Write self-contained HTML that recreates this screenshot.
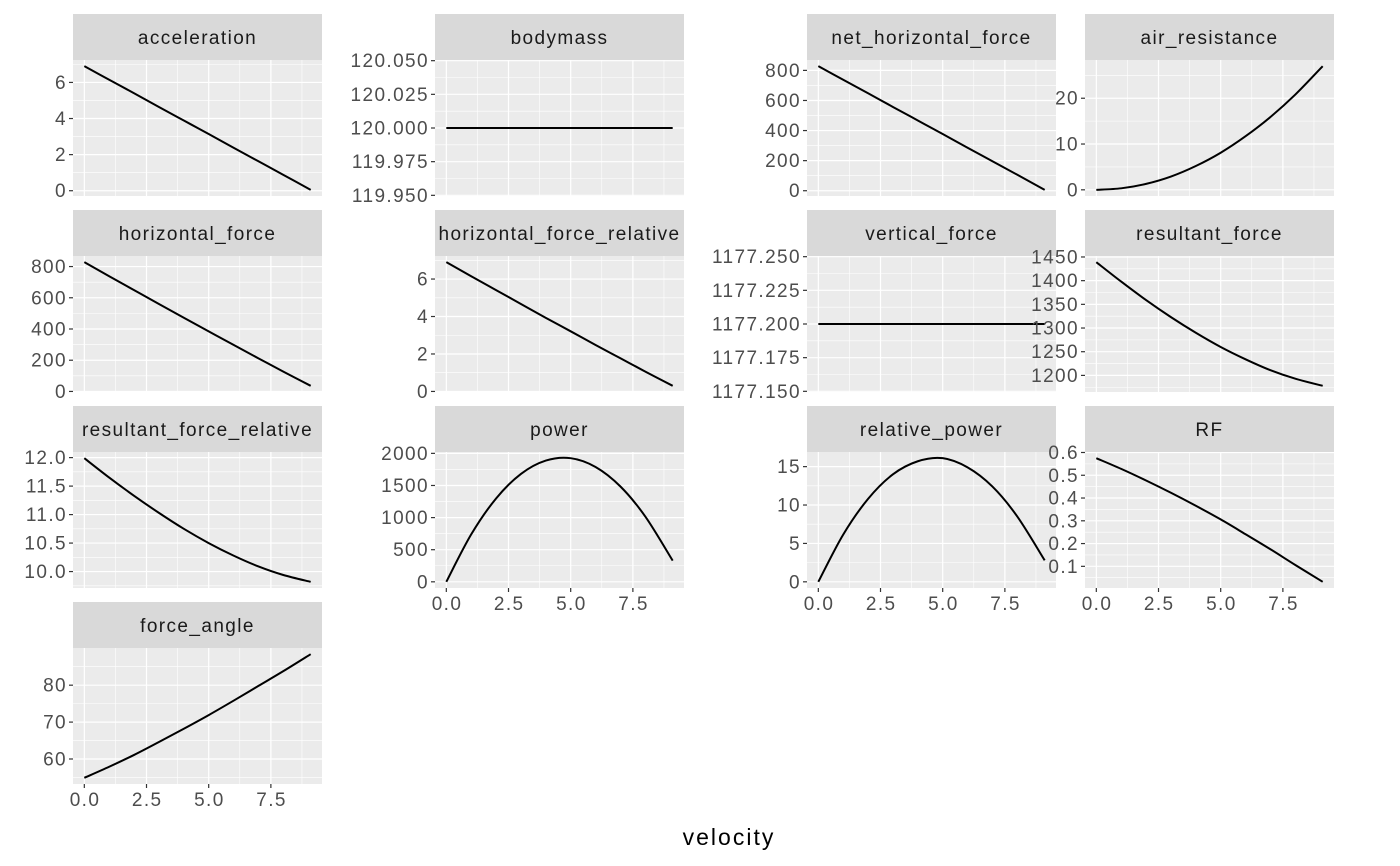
<!DOCTYPE html>
<html><head><meta charset="utf-8"><style>
html,body{margin:0;padding:0;background:#fff}
svg{display:block;font-family:"Liberation Sans",sans-serif}
</style></head><body>
<svg id="chart" width="1400" height="866" viewBox="0 0 1400 866" xmlns="http://www.w3.org/2000/svg">
<text x="729" y="845" font-size="23" letter-spacing="2" text-anchor="middle" fill="#000">velocity</text>
</svg>
<script>
const velocity = [0,1,2,3,4,5,6,7,8,9.1];
const xTicks = [0,2.5,5,7.5];
const xTickLabels = ["0.0","2.5","5.0","7.5"];
const panelNames = ["acceleration","bodymass","net_horizontal_force","air_resistance","horizontal_force","horizontal_force_relative","vertical_force","resultant_force","resultant_force_relative","power","relative_power","RF","force_angle"];
const acceleration = [6.90,6.15,5.40,4.64,3.89,3.14,2.38,1.63,0.88,0.05];
const bodymass = [120,120,120,120,120,120,120,120,120,120];
const netHorizontalForce = [828,738,648,557,467,377,286,196,106,6];
const airResistance = [0,0.33,1.3,2.9,5.2,8.1,11.7,15.9,20.8,27];
const horizontalForce = [828,738,649,560,472,385,298,212,127,36];
const horizontalForceRelative = [6.90,6.15,5.41,4.67,3.93,3.21,2.48,1.77,1.06,0.30];
const verticalForce = [1177.2,1177.2,1177.2,1177.2,1177.2,1177.2,1177.2,1177.2,1177.2,1177.2];
const resultantForce = [1439,1398,1359,1323,1290,1260,1234,1211,1193,1178];
const resultantForceRelative = [11.99,11.65,11.33,11.03,10.75,10.50,10.28,10.09,9.94,9.82];
const power = [0,738,1298,1680,1888,1925,1788,1484,1016,330];
const relativePower = [0,6.15,10.8,14.0,15.7,16.1,14.9,12.4,8.5,2.8];
const rfValues = [0.575,0.528,0.477,0.423,0.366,0.306,0.241,0.175,0.106,0.032];
const forceAngle = [54.9,57.9,61.1,64.6,68.2,71.9,75.8,79.8,83.8,88.4];
const yTicksAcc = [0,2,4,6];
const yTicksBody = [119.95,119.975,120,120.025,120.05];
const yTicksNet = [0,200,400,600,800];
const yTicksAir = [0,10,20];
const yTicksHf = [0,200,400,600,800];
const yTicksHfr = [0,2,4,6];
const yTicksVf = [1177.15,1177.175,1177.2,1177.225,1177.25];
const yTicksRf = [1200,1250,1300,1350,1400,1450];
const yTicksRfr = [10,10.5,11,11.5,12];
const yTicksPow = [0,500,1000,1500,2000];
const yTicksRel = [0,5,10,15];
const yTicksRF = [0.1,0.2,0.3,0.4,0.5,0.6];
const yTicksAngle = [60,70,80];
const series = [acceleration,bodymass,netHorizontalForce,airResistance,horizontalForce,horizontalForceRelative,verticalForce,resultantForce,resultantForceRelative,power,relativePower,rfValues,forceAngle];
const ticks = [yTicksAcc,yTicksBody,yTicksNet,yTicksAir,yTicksHf,yTicksHfr,yTicksVf,yTicksRf,yTicksRfr,yTicksPow,yTicksRel,yTicksRF,yTicksAngle];
const decimals = [0,3,0,0,0,0,3,0,1,0,0,1,0];

const NS="http://www.w3.org/2000/svg";
const svg=document.getElementById('chart');
const colLeft=[73,435,807,1085], PW=249, SH=46, PH=136;
function mk(tag,attrs,parent){const e=document.createElementNS(NS,tag);for(const k in attrs)e.setAttribute(k,attrs[k]);(parent||svg).appendChild(e);return e;}
function smoothPath(p){
  let d='M'+p[0][0].toFixed(2)+','+p[0][1].toFixed(2);
  for(let i=0;i<p.length-1;i++){
    const p0=p[Math.max(0,i-1)],p1=p[i],p2=p[i+1],p3=p[Math.min(p.length-1,i+2)];
    const c1x=p1[0]+(p2[0]-p0[0])/6,c1y=p1[1]+(p2[1]-p0[1])/6;
    const c2x=p2[0]-(p3[0]-p1[0])/6,c2y=p2[1]-(p3[1]-p1[1])/6;
    d+=' C'+c1x.toFixed(2)+','+c1y.toFixed(2)+' '+c2x.toFixed(2)+','+c2y.toFixed(2)+' '+p2[0].toFixed(2)+','+p2[1].toFixed(2);
  }
  return d;
}
const xmin=0,xmax=9.1,xpad=(xmax-xmin)*0.05;
const FS='19', LS='1.4';
panelNames.forEach((name,i)=>{
  const col=i%4,row=Math.floor(i/4);
  const L=colLeft[col], ST=14+row*196, T=ST+SH, B=T+PH;
  const g=mk('g',{});
  
  
  const data=series[i];
  let mn=Math.min(...data),mx=Math.max(...data),lo,hi;
  if(mx-mn<1e-9){lo=mn-0.0505;hi=mx+0.0505;}else{const p=(mx-mn)*0.05;lo=mn-p;hi=mx+p;}
  const sx=v=>L+(v-(xmin-xpad))/((xmax+xpad)-(xmin-xpad))*PW;
  const sy=v=>B-(v-lo)/(hi-lo)*PH;
  const strip=mk('rect',{x:L,y:ST,width:PW,height:SH,fill:'#D9D9D9'},g);
  
  
  const st=mk('text',{x:L+PW/2,y:ST+30,'font-size':FS,'letter-spacing':LS,'text-anchor':'middle',fill:'#1A1A1A'},g);
  
  
  st.textContent=name;
  const bg=mk('rect',{x:L,y:T,width:PW,height:PH,fill:'#EBEBEB'},g);
  
  
  const clip=mk('clipPath',{id:'c'+i},g);mk('rect',{x:L,y:T,width:PW,height:PH},clip);
  const gg=mk('g',{'clip-path':'url(#c'+i+')'},g);
  const yt=ticks[i], step=yt[1]-yt[0];
  const minors=[];for(let k=-1;k<yt.length;k++){minors.push(yt[0]+step*(k+0.5));}
  minors.forEach(v=>{const y=sy(v);if(y>T&&y<B)mk('line',{x1:L,x2:L+PW,y1:y,y2:y,stroke:'#fff','stroke-width':0.6},gg);});
  const xm=[-1.25,1.25,3.75,6.25,8.75];
  xm.forEach(v=>{const x=sx(v);if(x>L&&x<L+PW)mk('line',{x1:x,x2:x,y1:T,y2:B,stroke:'#fff','stroke-width':0.6},gg);});
  yt.forEach(v=>mk('line',{x1:L,x2:L+PW,y1:sy(v),y2:sy(v),stroke:'#fff','stroke-width':1.2},gg));
  xTicks.forEach(v=>mk('line',{x1:sx(v),x2:sx(v),y1:T,y2:B,stroke:'#fff','stroke-width':1.2},gg));
  const pts=velocity.map((v,k)=>[sx(v),sy(data[k])]);
  const ln=mk('path',{d:smoothPath(pts),fill:'none',stroke:'#000','stroke-width':2,'stroke-linejoin':'round'},g);
  
  
  yt.forEach(v=>{const y=sy(v);
    mk('line',{x1:L-4,x2:L,y1:y,y2:y,stroke:'#333','stroke-width':1.2},g);
    const t=mk('text',{x:L-6,y:y+6.5,'font-size':FS,'letter-spacing':LS,'text-anchor':'end',fill:'#4D4D4D'},g);
    
    
    t.textContent=v.toFixed(decimals[i]);});
  const bottom=(col===0&&row===3)||(col>0&&row===2);
  if(bottom){xTicks.forEach((v,k)=>{const x=sx(v);
    mk('line',{x1:x,x2:x,y1:B,y2:B+4,stroke:'#333','stroke-width':1.2},g);
    const t=mk('text',{x:x+0.7,y:B+22,'font-size':FS,'letter-spacing':LS,'text-anchor':'middle',fill:'#4D4D4D'},g);
    
    
    t.textContent=xTickLabels[k];});}
});
</script>
</body></html>
